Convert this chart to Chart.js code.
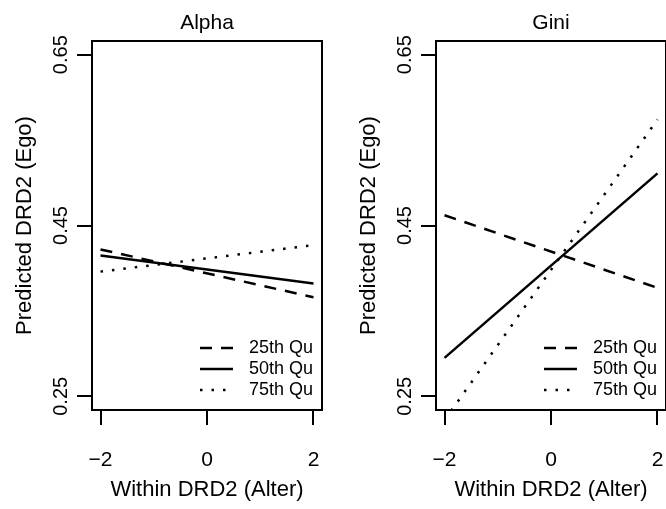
<!DOCTYPE html>
<html>
<head>
<meta charset="utf-8">
<script src="https://cdn.jsdelivr.net/npm/chart.js@4.4.0/dist/chart.umd.min.js"></script>
<style>
html, body { margin: 0; padding: 0; background: #fff; }
#wrap { position: relative; width: 666px; height: 509px; overflow: hidden; }
canvas { position: absolute; top: 0; }
</style>
</head>
<body>
<div id="wrap">
  <canvas id="alpha" width="333" height="509" style="left:0px"></canvas>
  <canvas id="gini" width="333" height="509" style="left:344px"></canvas>
</div>
<script>
// values, at x = -2 and x = 2
var xPoints = [-2, 2];
var xTicks = [-2, 0, 2];
var yTicks = [0.25, 0.45, 0.65];
var seriesNames = ['25th Qu', '50th Qu', '75th Qu'];

var alpha25 = [0.422, 0.366];
var alpha50 = [0.415, 0.382];
var alpha75 = [0.396, 0.427];

var gini25 = [0.462, 0.377];
var gini50 = [0.295, 0.511];
var gini75 = [0.222, 0.574];

var FONT = '"Liberation Sans", Arial, Helvetica, sans-serif';
Chart.defaults.color = '#000';
Chart.defaults.font.family = FONT;

var dashes = [[12, 9], [], [2.5, 9]];

// R style box around the plot area
var boxPlugin = {
  id: 'box',
  afterDatasetsDraw: function(chart) {
    var a = chart.chartArea, ctx = chart.ctx;
    ctx.save();
    ctx.strokeStyle = '#000';
    ctx.lineWidth = 2;
    ctx.strokeRect(a.left, a.top, a.right - a.left, a.bottom - a.top);
    ctx.restore();
  }
};

// panel title centred over the plot area, rotated y tick labels
var textPlugin = {
  id: 'panelText',
  afterDraw: function(chart) {
    var ctx = chart.ctx, sc = chart.scales.y, a = chart.chartArea;
    ctx.save();
    ctx.fillStyle = '#000';
    ctx.textAlign = 'center';
    ctx.textBaseline = 'middle';
    ctx.font = '21px ' + FONT;
    ctx.fillText(chart.options.panelTitle, (a.left + a.right) / 2, 23);
    ctx.font = '20px ' + FONT;
    yTicks.forEach(function(v) {
      ctx.save();
      ctx.translate(61, sc.getPixelForValue(v));
      ctx.rotate(-Math.PI / 2);
      ctx.fillText(v.toFixed(2), 0, 0);
      ctx.restore();
    });
    ctx.restore();
  }
};

// legend inside the plot, bottom right
var legendPlugin = {
  id: 'insideLegend',
  afterDraw: function(chart) {
    var ctx = chart.ctx, a = chart.chartArea;
    ctx.save();
    ctx.font = '18px ' + FONT;
    ctx.textBaseline = 'middle';
    ctx.fillStyle = '#000';
    ctx.strokeStyle = '#000';
    chart.data.datasets.forEach(function(ds, i) {
      var y = a.bottom - 62 + i * 21;
      ctx.lineWidth = ds.borderWidth;
      ctx.setLineDash(ds.borderDash || []);
      ctx.beginPath();
      ctx.moveTo(a.right - 122, y);
      ctx.lineTo(a.right - 89, y);
      ctx.stroke();
      ctx.setLineDash([]);
      ctx.fillText(ds.label, a.right - 73, y);
    });
    ctx.restore();
  }
};

function makePanel(id, title, s25, s50, s75) {
  var series = [s25, s50, s75];
  var datasets = series.map(function(vals, i) {
    return {
      label: seriesNames[i],
      data: xPoints.map(function(x, j) { return { x: x, y: vals[j] }; }),
      borderColor: '#000',
      borderWidth: 2.5,
      borderDash: dashes[i],
      pointRadius: 0,
      tension: 0,
      clip: 0
    };
  });

  return new Chart(document.getElementById(id).getContext('2d'), {
    type: 'line',
    data: { datasets: datasets },
    plugins: [boxPlugin, textPlugin, legendPlugin],
    options: {
      panelTitle: title,
      responsive: false,
      animation: false,
      devicePixelRatio: 1,
      layout: { autoPadding: false, padding: { left: 0, right: 11, top: 41, bottom: 0 } },
      plugins: {
        legend: { display: false },
        tooltip: { enabled: false },
        title: { display: false }
      },
      scales: {
        x: {
          type: 'linear',
          min: -2.16,
          max: 2.16,
          afterBuildTicks: function(scale) {
            scale.ticks = xTicks.map(function(v) { return { value: v }; });
          },
          afterFit: function(scale) {
            scale.height = 99;
            scale.paddingLeft = 0;
            scale.paddingRight = 0;
          },
          grid: { drawOnChartArea: false, color: '#000', lineWidth: 2, tickLength: 15 },
          border: { display: true, color: '#000', width: 2 },
          ticks: {
            font: { size: 21 },
            padding: 23,
            maxRotation: 0,
            callback: function(v) { return v < 0 ? '\u2212' + Math.abs(v) : String(v); }
          },
          title: {
            display: true,
            text: 'Within DRD2 (Alter)',
            font: { size: 22 },
            padding: { top: 0, bottom: 6 }
          }
        },
        y: {
          type: 'linear',
          min: 0.234,
          max: 0.666,
          afterBuildTicks: function(scale) {
            scale.ticks = yTicks.map(function(v) { return { value: v }; });
          },
          afterFit: function(scale) {
            scale.width = 92;
            scale.paddingTop = 0;
            scale.paddingBottom = 0;
          },
          grid: { drawOnChartArea: false, color: '#000', lineWidth: 2, tickLength: 15 },
          border: { display: true, color: '#000', width: 2 },
          ticks: { color: 'rgba(0,0,0,0)', font: { size: 8 } },
          title: {
            display: true,
            text: 'Predicted DRD2 (Ego)',
            font: { size: 22 },
            padding: { top: 12, bottom: 0 }
          }
        }
      }
    }
  });
}

makePanel('alpha', 'Alpha', alpha25, alpha50, alpha75);
makePanel('gini', 'Gini', gini25, gini50, gini75);
</script>
</body>
</html>
